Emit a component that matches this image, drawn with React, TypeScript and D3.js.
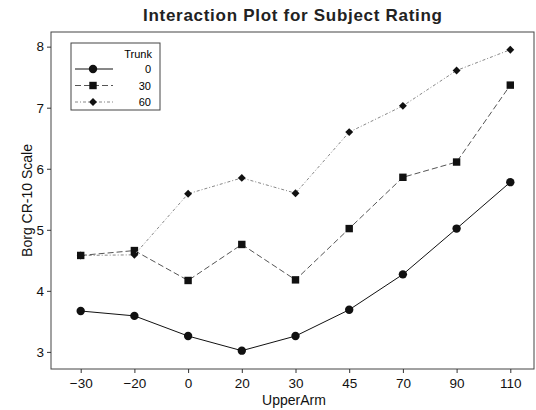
import React, { useEffect, useRef } from "react";
import * as d3 from "d3";

const upperArm = ["-30", "-20", "0", "20", "30", "45", "70", "90", "110"];
const trunk0 = [3.67, 3.59, 3.26, 3.02, 3.26, 3.69, 4.27, 5.02, 5.78];
const trunk30 = [4.58, 4.66, 4.17, 4.76, 4.18, 5.02, 5.86, 6.11, 7.37];
const trunk60 = [4.58, 4.59, 5.59, 5.85, 5.60, 6.60, 7.03, 7.61, 7.95];
const yTicks = [3, 4, 5, 6, 7, 8];

const width = 536;
const height = 410;
const left = 51, right = 534, top = 32, bottom = 369;
const font = "'Liberation Sans', Arial, sans-serif";

const series = [
  { name: "0", values: trunk0, dash: null, stroke: "#111", symbol: d3.symbolCircle, size: 55 },
  { name: "30", values: trunk30, dash: "6,3", stroke: "#555", symbol: d3.symbolSquare, size: 55 },
  { name: "60", values: trunk60, dash: "3,2,1,2", stroke: "#888", symbol: d3.symbolDiamond2, size: 40 },
];

const drawChart = (node: SVGSVGElement) => {
  const svg = d3.select(node);
  svg.selectAll("*").remove();

  const x = d3.scalePoint().domain(upperArm).range([80.7, 510.3]);
  const y = d3.scaleLinear().domain([2.72, 8.24]).range([bottom, top]);

  svg.append("rect")
    .attr("x", left).attr("y", top)
    .attr("width", right - left).attr("height", bottom - top)
    .attr("fill", "none").attr("stroke", "#444").attr("stroke-width", 1);

  const xAxis = svg.append("g")
    .attr("transform", `translate(0,${bottom})`)
    .call(d3.axisBottom(x).tickSize(4).tickPadding(5).tickFormat(d => d.replace("-", "\u2212")));
  xAxis.select(".domain").remove();
  xAxis.selectAll("text").attr("font-size", 13.5).attr("font-family", font).attr("fill", "#111");
  xAxis.selectAll("line").attr("stroke", "#333");

  const yAxis = svg.append("g")
    .attr("transform", `translate(${left},0)`)
    .call(d3.axisLeft(y).tickValues(yTicks).tickSize(4).tickPadding(3).tickFormat(d3.format("d")));
  yAxis.select(".domain").remove();
  yAxis.selectAll("text").attr("font-size", 13.5).attr("font-family", font).attr("fill", "#111");
  yAxis.selectAll("line").attr("stroke", "#333");

  const line = d3.line<number>()
    .x((_, i) => x(upperArm[i]) as number)
    .y(d => y(d));

  series.forEach(s => {
    svg.append("path")
      .datum(s.values)
      .attr("d", line)
      .attr("fill", "none")
      .attr("stroke", s.stroke)
      .attr("stroke-width", 1)
      .attr("stroke-dasharray", s.dash);
    svg.append("g")
      .selectAll("path")
      .data(s.values)
      .join("path")
        .attr("transform", (d, i) => `translate(${x(upperArm[i])},${y(d)})`)
        .attr("d", d3.symbol().type(s.symbol).size(s.size)())
        .attr("fill", "#111");
  });

  // legend
  const lg = svg.append("g");
  lg.append("rect")
    .attr("x", 71).attr("y", 43).attr("width", 89).attr("height", 67)
    .attr("fill", "white").attr("stroke", "#444");
  lg.append("text")
    .attr("x", 152).attr("y", 58)
    .attr("text-anchor", "end").attr("font-size", 11).attr("font-family", font)
    .text("Trunk");
  series.forEach((s, i) => {
    const yy = 69 + i * 16.5;
    lg.append("line")
      .attr("x1", 75).attr("x2", 113).attr("y1", yy).attr("y2", yy)
      .attr("stroke", s.stroke).attr("stroke-dasharray", s.dash);
    lg.append("path")
      .attr("transform", `translate(93,${yy})`)
      .attr("d", d3.symbol().type(s.symbol).size(s.size)())
      .attr("fill", "#111");
    lg.append("text")
      .attr("x", 151).attr("y", yy + 4)
      .attr("text-anchor", "end").attr("font-size", 11).attr("font-family", font)
      .text(s.name);
  });

  svg.append("text")
    .attr("x", (left + right) / 2).attr("y", 21)
    .attr("text-anchor", "middle").attr("font-size", 17).attr("font-weight", "bold")
    .attr("font-family", font).attr("fill", "#222")
    .attr("textLength", 299).attr("lengthAdjust", "spacing")
    .text("Interaction Plot for Subject Rating");

  svg.append("text")
    .attr("x", 294).attr("y", 405)
    .attr("text-anchor", "middle").attr("font-size", 14)
    .attr("font-family", font).attr("fill", "#111")
    .text("UpperArm");

  svg.append("text")
    .attr("transform", `translate(32,${(top + bottom) / 2}) rotate(-90)`)
    .attr("text-anchor", "middle").attr("font-size", 14)
    .attr("font-family", font).attr("fill", "#111")
    .text("Borg CR-10 Scale");
};

const App = () => {
  const ref = useRef<SVGSVGElement>(null);
  useEffect(() => {
    if (ref.current) drawChart(ref.current);
  }, []);
  return (
    <svg
      ref={ref}
      width={width}
      height={height}
      style={{ position: "absolute", left: 0, top: 0, background: "white" }}
    />
  );
};

export default App;
